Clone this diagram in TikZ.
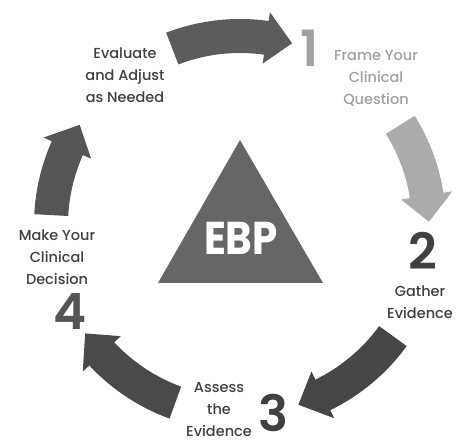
\documentclass[tikz,border=0pt]{standalone}
\usepackage{fontspec}
\setmainfont{Poppins}[UprightFont=* Medium]
\newfontfamily\numfont{Poppins}[UprightFont=* SemiBold]
\newfontfamily\ebpfont{Poppins}[UprightFont=* Bold]
\begin{document}
\begin{tikzpicture}[x=1pt,y=1pt,
  label/.style={align=center,font=\fontsize{14.5}{22}\selectfont,text=#1,inner sep=0pt},
  stepnum/.style={font=\numfont\fontsize{50}{50}\selectfont,text=#1,inner sep=0pt}]
\definecolor{arrowA}{HTML}{5C5C5C}
\definecolor{arrowB}{HTML}{ABABAB}
\definecolor{arrowC}{HTML}{464646}
\definecolor{arrowD}{HTML}{4A4A4A}
\definecolor{arrowE}{HTML}{555555}
\definecolor{tri}{HTML}{666666}
\definecolor{txt}{HTML}{404040}
\definecolor{lighttxt}{HTML}{A0A0A0}
\useasboundingbox[fill=white] (0,0) rectangle (458,441);
% curved cycle arrows: #1 start angle, #2 tip angle, #3 colour
\newcommand{\cyclearrow}[3]{%
  \pgfmathsetmacro{\hb}{#2+8}%
  \fill[#3] (#1:206) arc[start angle=#1, end angle=\hb, radius=206]
    -- (\hb:215) -- (#2:189) -- (\hb:163) -- (\hb:172)
    arc[start angle=\hb, end angle=#1, radius=172] -- cycle;}
\begin{scope}[shift={(240,216)}]
  \cyclearrow{111}{74}{arrowA}
  \cyclearrow{32}{1}{arrowB}
  \cyclearrow{-36}{-72}{arrowC}
  \cyclearrow{-110}{-145}{arrowD}
  \cyclearrow{177}{148}{arrowE}
\end{scope}
% central triangle
\fill[tri] (240,301) -- (323,158) -- (158,158) -- cycle;
\node[text=white,font=\ebpfont\fontsize{46}{46}\selectfont,inner sep=0pt,xscale=0.88] (ebp) at (241,203) {EBP};
% step numbers
\node[stepnum=lighttxt] (n1) at (310,393) {1};
\node[stepnum=txt] (n2) at (423,190) {2};
\node[stepnum=txt] (n3) at (273,28) {3};
\node[stepnum=arrowE] (n4) at (70,129) {4};
% step labels
\node[label=lighttxt] (frame) at (376,363) {Frame Your\\Clinical\\Question};
\node[label=txt] (gather) at (420,139) {Gather\\Evidence};
\node[label=txt] (assess) at (219,31) {Assess\\the\\Evidence};
\node[label=txt] (decide) at (57,184) {Make Your\\Clinical\\Decision};
\node[label=txt] (evaluate) at (125,366) {Evaluate\\and Adjust\\as Needed};
\end{tikzpicture}
\end{document}
